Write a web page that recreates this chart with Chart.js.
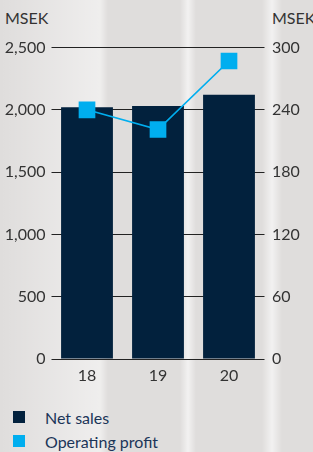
<!DOCTYPE html>
<html>
<head>
<meta charset="utf-8">
<script src="https://cdn.jsdelivr.net/npm/chart.js@4/dist/chart.umd.min.js"></script>
<style>
  html, body { margin: 0; padding: 0; }
  body {
    width: 313px; height: 452px; overflow: hidden; position: relative;
    font-family: Lato, "Noto Sans", sans-serif;
    background:
      linear-gradient(90deg, rgba(255,255,255,0) 0px, rgba(255,255,255,0.5) 100px, rgba(255,255,255,0) 108px,
        rgba(255,255,255,0) 180px, rgba(255,255,255,0.6) 188px, rgba(255,255,255,0) 196px,
        rgba(255,255,255,0) 262px, rgba(255,255,255,0.6) 272px, rgba(255,255,255,0) 282px),
      #dfdddc;
  }
  #wrap { position: absolute; left: 0; top: 0; width: 313px; height: 390px; }
  .unit { position: absolute; top: 8px; font-size: 16px; color: #333; }
  #legend { position: absolute; left: 13px; top: 405px; font-size: 16px; color: #1b3558; }
  .item { display: flex; align-items: center; height: 24px; }
  .box { width: 12px; height: 12px; margin-right: 20px; }
</style>
</head>
<body>
<div class="unit" style="left:5px">MSEK</div>
<div class="unit" style="left:272px">MSEK</div>
<div id="wrap"><canvas id="chart"></canvas></div>
<div id="legend"></div>
<script>
// Chart data
const years = ['18', '19', '20'];
const netSales = [2020, 2030, 2120];
const operatingProfit = [240, 221, 287];

const navy = '#02213d';
const cyan = '#00aeef';

function setupLegend() {
    const legend = document.getElementById('legend');
    [['Net sales', navy], ['Operating profit', cyan]].forEach(function(entry) {
        const row = document.createElement('div');
        row.className = 'item';
        row.innerHTML = '<span class="box" style="background:' + entry[1] + '"></span>' + entry[0];
        legend.appendChild(row);
    });
}

function renderChart() {
    const ctx = document.getElementById('chart');
    const tickFont = { family: 'Lato', size: 16 };

    new Chart(ctx.getContext('2d'), {
        data: {
            labels: years,
            datasets: [{
                type: 'line',
                label: 'Operating profit',
                data: operatingProfit,
                yAxisID: 'y1',
                borderColor: cyan,
                backgroundColor: cyan,
                borderWidth: 1.7,
                pointStyle: 'rect',
                pointRadius: 10.6,
                pointHoverRadius: 10.6,
                tension: 0,
                order: 0
            }, {
                type: 'bar',
                label: 'Net sales',
                data: netSales,
                yAxisID: 'y',
                backgroundColor: navy,
                barPercentage: 0.73,
                categoryPercentage: 1,
                order: 1
            }]
        },
        options: {
            responsive: true,
            maintainAspectRatio: false,
            animation: false,
            layout: { padding: { top: 47.5, left: 0, right: 0, bottom: 0 } },
            plugins: {
                legend: { display: false },
                tooltip: { enabled: false }
            },
            scales: {
                x: {
                    grid: { display: false, drawTicks: false, tickLength: 0 },
                    border: { display: false },
                    ticks: { color: '#333', font: tickFont, padding: 7 },
                    afterFit: function(scale) { scale.height = 31; }
                },
                y: {
                    position: 'left',
                    min: 0,
                    max: 2500,
                    ticks: {
                        stepSize: 500,
                        color: '#333',
                        font: tickFont,
                        padding: 6
                    },
                    grid: { color: '#222', lineWidth: 1, tickLength: 0 },
                    border: { display: false },
                    afterFit: function(scale) { scale.width = 51.5; }
                },
                y1: {
                    position: 'right',
                    min: 0,
                    max: 300,
                    ticks: {
                        stepSize: 60,
                        color: '#333',
                        font: tickFont,
                        padding: 7.5
                    },
                    grid: { display: false, drawTicks: false, tickLength: 0 },
                    border: { display: false },
                    afterFit: function(scale) { scale.width = 48.5; }
                }
            }
        }
    });
}

document.addEventListener('DOMContentLoaded', function() {
    setupLegend();
    renderChart();
});
</script>
</body>
</html>
